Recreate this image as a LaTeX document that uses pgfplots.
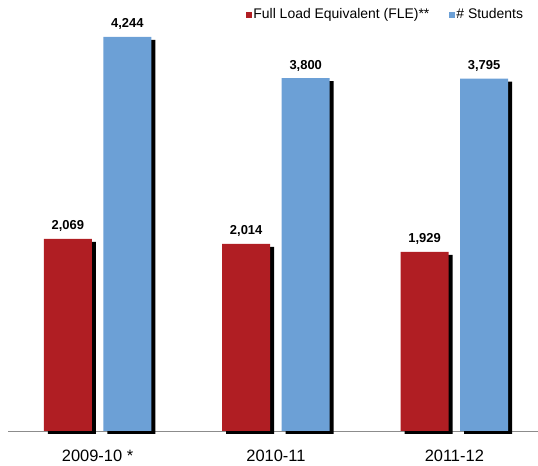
\documentclass[border=0pt]{standalone}
\usepackage{pgfplots}
\pgfplotsset{compat=1.18}
\usepackage{fontspec}
\setmainfont{Liberation Sans}
\definecolor{fle}{RGB}{176,30,35}
\definecolor{stu}{RGB}{108,160,214}
\definecolor{axgray}{RGB}{140,140,140}
\begin{document}
\begin{tikzpicture}[x=1bp,y=1bp]
\useasboundingbox (0,0) rectangle (538,466);
\begin{axis}[
  at={(8bp,35bp)}, anchor=south west,
  scale only axis, width=530bp, height=431bp,
  xmin=-0.502, xmax=2.469, ymin=0, ymax=4642,
  clip=false,
  axis x line*=bottom, axis y line=none,
  axis line style={draw=axgray, line width=0.9bp},
  xtick={0,1,2}, xticklabels={2009-10 *,2010-11,2011-12},
  major tick length=0pt,
  xticklabel style={anchor=base, inner sep=0pt, yshift=-31bp, font=\fontsize{16.5}{18}\selectfont},
  /pgf/number format/assume math mode=true,
  legend columns=2,
  legend cell align=left,
  legend style={draw=none, fill=none, at={(0.4485,0.966)}, anchor=west, inner sep=0pt,
    font=\fontsize{14}{16}\selectfont,
    nodes={inner sep=1.5bp}},
  legend image code/.code={\fill[#1, draw=none] (0bp,-3bp) rectangle (6bp,3bp);},
]
% shadows
\addplot[ybar, bar width=48bp, bar shift=0pt, fill=black, draw=none, forget plot,
  transform canvas={xshift=4bp,yshift=-3bp}] coordinates {(-0.1668,2069) (0.8332,2014) (1.8332,1929)};
\addplot[ybar, bar width=48bp, bar shift=0pt, fill=black, draw=none, forget plot,
  transform canvas={xshift=4bp,yshift=-3bp}] coordinates {(0.1668,4244) (1.1668,3800) (2.1668,3795)};
% bars
\addplot[ybar, bar width=48bp, bar shift=0pt, fill=fle, draw=none,
  nodes near coords,
  nodes near coords style={anchor=base, inner sep=0pt, yshift=9bp, text=black, font=\bfseries\fontsize{13}{14}\selectfont}]
  coordinates {(-0.1668,2069) (0.8332,2014) (1.8332,1929)};
\addlegendentry{Full Load Equivalent (FLE)**\kern18bp}
\addplot[ybar, bar width=48bp, bar shift=0pt, fill=stu, draw=none,
  nodes near coords,
  nodes near coords style={anchor=base, inner sep=0pt, yshift=9bp, text=black, font=\bfseries\fontsize{13}{14}\selectfont}]
  coordinates {(0.1668,4244) (1.1668,3800) (2.1668,3795)};
\addlegendentry{\# Students}
\end{axis}
\end{tikzpicture}
\end{document}
